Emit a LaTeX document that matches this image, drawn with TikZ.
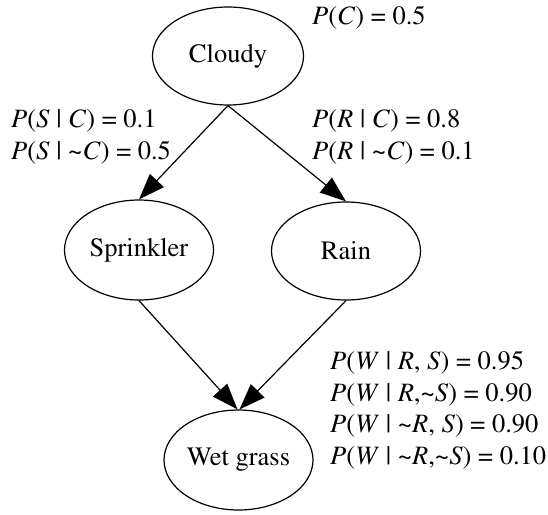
\documentclass[tikz,border=0pt]{standalone}
\usepackage[T1]{fontenc}
\usepackage{mathptmx}
\usetikzlibrary{shapes.geometric,arrows.meta}
\newcommand{\vv}[1]{\textit{#1}}
\newcommand{\tl}{\textasciitilde}
\newcommand{\myfont}{\fontsize{26.5pt}{31.5pt}\selectfont}
\begin{document}
\begin{tikzpicture}[x=1pt,y=-1pt,
  every node/.style={font=\myfont},
  bnode/.style={draw,ellipse,line width=1.2pt,inner sep=0pt,minimum width=149pt,minimum height=100pt},
  prob/.style={anchor=west,inner sep=0pt},
  edge/.style={line width=1.2pt,-{Triangle[length=26pt,width=19pt]}}]
\useasboundingbox (0,0) rectangle (548,514);
\node[bnode,minimum width=151pt,minimum height=98pt] (c) at (228,56) {Cloudy};
\node[bnode] (s) at (139,250) {Sprinkler};
\node[bnode,minimum height=98pt] (r) at (346,251) {Rain};
\node[bnode] (w) at (238.5,460) {Wet grass};
\draw[edge] (c.south) -- (s.north);
\draw[edge] (c.south) -- (r.north);
\draw[edge] (s.south) -- ([xshift=-1pt]w.north);
\draw[edge] (r.south) -- ([xshift=1pt]w.north);
\node[prob] (pc) at (312,18) {\vv{P}(\vv{C}) = 0.5};
\node[prob] (ps1) at (11,121) {\vv{P}(\vv{S} | \vv{C}) = 0.1};
\node[prob] (ps2) at (11,153) {\vv{P}(\vv{S} | \tl\vv{C}) = 0.5};
\node[prob] (pr1) at (312,121) {\vv{P}(\vv{R} | \vv{C}) = 0.8};
\node[prob] (pr2) at (312,153) {\vv{P}(\vv{R} | \tl\vv{C}) = 0.1};
\node[prob] (pw1) at (330,363) {\vv{P}(\vv{W} | \vv{R}, \vv{S}) = 0.95};
\node[prob] (pw2) at (330,394.5) {\vv{P}(\vv{W} | \vv{R},\tl\vv{S}) = 0.90};
\node[prob] (pw3) at (330,426) {\vv{P}(\vv{W} | \tl\vv{R}, \vv{S}) = 0.90};
\node[prob] (pw4) at (330,457.5) {\vv{P}(\vv{W} | \tl\vv{R},\tl\vv{S}) = 0.10};
\end{tikzpicture}
\end{document}
